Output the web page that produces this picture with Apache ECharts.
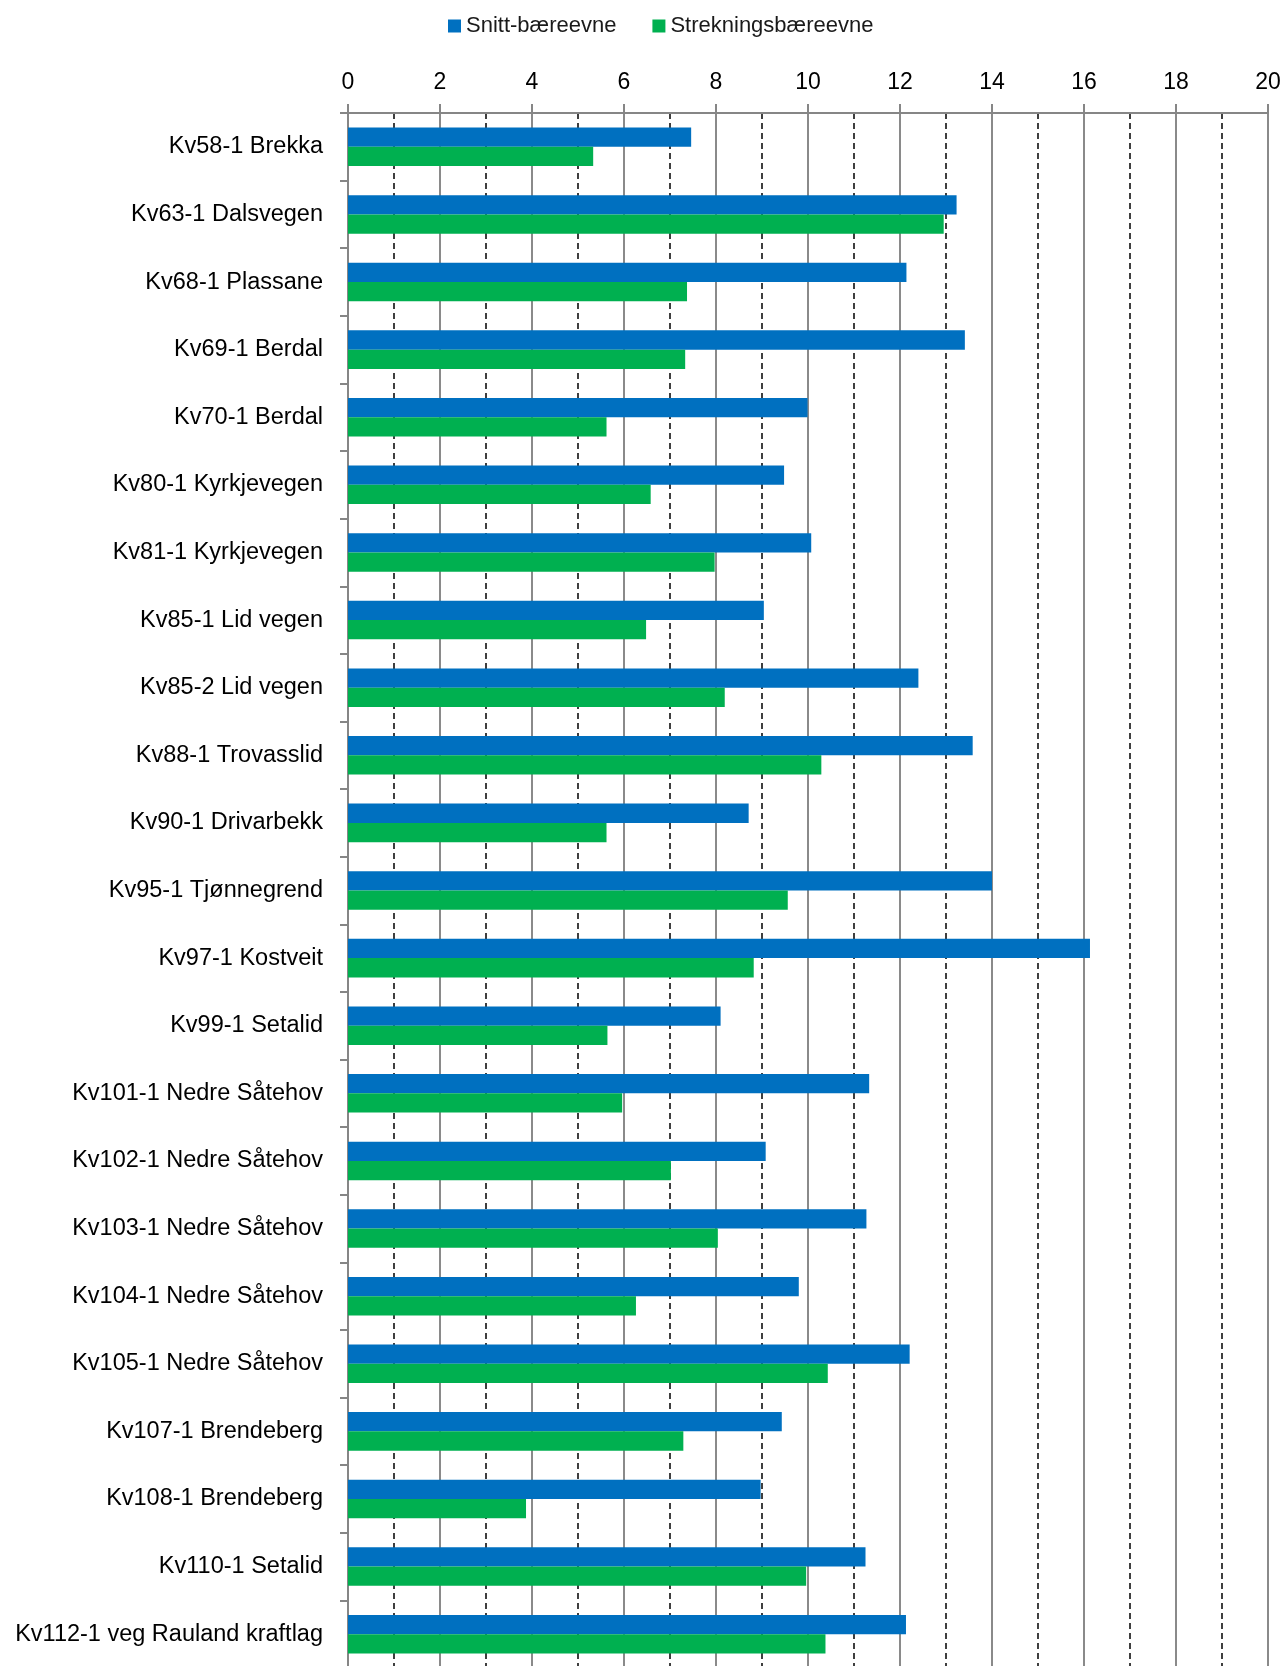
<!DOCTYPE html>
<html>
<head>
<meta charset="utf-8">
<script src="https://cdn.jsdelivr.net/npm/echarts@6/dist/echarts.min.js"></script>
<style>
html,body{margin:0;padding:0;background:#fff;}
#chart{width:1285px;height:1666px;}
</style>
</head>
<body>
<div id="chart"></div>
<script>
var categories = [
  "Kv58-1 Brekka","Kv63-1 Dalsvegen","Kv68-1 Plassane","Kv69-1 Berdal","Kv70-1 Berdal",
  "Kv80-1 Kyrkjevegen","Kv81-1 Kyrkjevegen","Kv85-1 Lid vegen","Kv85-2 Lid vegen","Kv88-1 Trovasslid",
  "Kv90-1 Drivarbekk","Kv95-1 Tjønnegrend","Kv97-1 Kostveit","Kv99-1 Setalid","Kv101-1 Nedre Såtehov",
  "Kv102-1 Nedre Såtehov","Kv103-1 Nedre Såtehov","Kv104-1 Nedre Såtehov","Kv105-1 Nedre Såtehov","Kv107-1 Brendeberg",
  "Kv108-1 Brendeberg","Kv110-1 Setalid","Kv112-1 veg Rauland kraftlag"
];
var snittValues = [
  7.46, 13.23, 12.14, 13.41, 9.99,
  9.48, 10.07, 9.04, 12.40, 13.58,
  8.71, 14.00, 16.13, 8.10, 11.33,
  9.08, 11.27, 9.80, 12.21, 9.43,
  8.97, 11.25, 12.13
];
var strekningValues = [
  5.33, 12.95, 7.37, 7.33, 5.62,
  6.58, 7.97, 6.48, 8.19, 10.29,
  5.62, 9.56, 8.82, 5.64, 5.96,
  7.02, 8.04, 6.26, 10.43, 7.29,
  3.87, 9.96, 10.38
];
var seriesNames = ["Snitt-bæreevne", "Strekningsbæreevne"];
var axisMin = 0, axisMax = 20, axisInterval = 2;

var FONT = '"Liberation Sans", Arial, sans-serif';
var chart = echarts.init(document.getElementById('chart'), null, {renderer: 'canvas'});
chart.setOption({
  animation: false,
  backgroundColor: '#ffffff',
  textStyle: {fontFamily: FONT},
  legend: {
    data: seriesNames,
    left: 443,
    top: 10,
    itemWidth: 13,
    itemHeight: 13,
    itemGap: 36,
    icon: 'rect',
    textStyle: {fontFamily: FONT, fontSize: 22, color: '#1a1a1a'}
  },
  grid: {left: 348, top: 113, width: 920, height: 1555, containLabel: false, outerBoundsMode: 'none'},
  xAxis: {
    type: 'value',
    position: 'top',
    min: axisMin, max: axisMax, interval: axisInterval,
    axisLine: {show: true, lineStyle: {color: '#868686', width: 2}},
    axisTick: {show: true, length: 9, lineStyle: {color: '#868686', width: 2}},
    axisLabel: {fontFamily: FONT, fontSize: 23, color: '#000', margin: 19},
    splitLine: {show: true, lineStyle: {color: '#8a8a8a', width: 2}},
    minorTick: {show: false, splitNumber: 2},
    minorSplitLine: {show: true, lineStyle: {color: '#000', width: 1.5, type: [6, 4]}}
  },
  yAxis: {
    type: 'category',
    inverse: true,
    data: categories,
    axisLine: {show: true, lineStyle: {color: '#868686', width: 2}},
    axisTick: {show: true, length: 8, lineStyle: {color: '#868686', width: 2}},
    axisLabel: {fontFamily: FONT, fontSize: 23.5, color: '#000', margin: 25},
    splitLine: {show: false}
  },
  series: [
    {
      name: seriesNames[0], type: 'bar', data: snittValues,
      barGap: 0, barCategoryGap: '43%',
      itemStyle: {color: '#0070C0'}
    },
    {
      name: seriesNames[1], type: 'bar', data: strekningValues,
      barGap: 0, barCategoryGap: '43%',
      itemStyle: {color: '#00B050'}
    }
  ]
});
</script>
</body>
</html>
